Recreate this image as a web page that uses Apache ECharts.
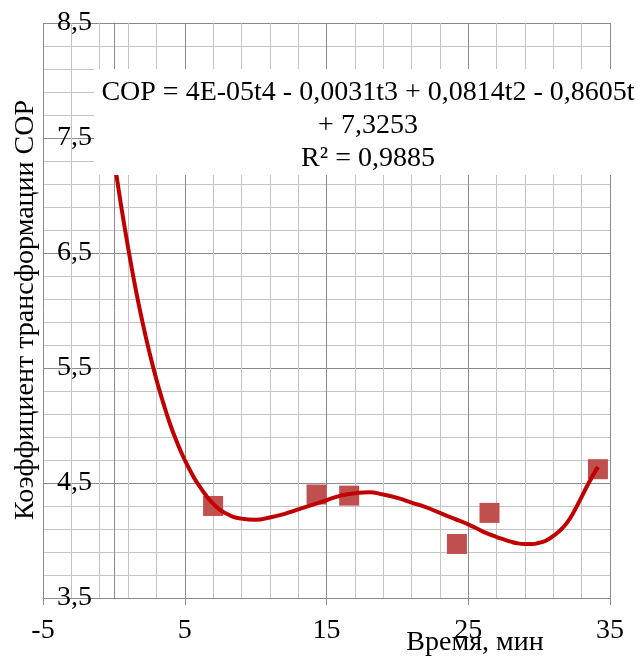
<!DOCTYPE html>
<html>
<head>
<meta charset="utf-8">
<script src="https://cdn.jsdelivr.net/npm/echarts@6/dist/echarts.min.js"></script>
<style>
html,body{margin:0;padding:0;background:#fff;}
#chart{width:639px;height:658px;}
</style>
</head>
<body>
<div id="chart"></div>
<script>
// Measured data points (time, min ; COP)
const timeMin = [7.0, 14.3, 16.6, 24.2, 26.5, 34.15];
const copValues = [4.30, 4.40, 4.39, 3.97, 4.24, 4.62];

// Polynomial trendline
const trendT = [0, 0.5, 1, 1.5, 2, 2.5, 3, 3.5, 4, 4.5, 5, 5.5, 6, 7, 8, 9, 10, 11, 12, 13, 14, 15, 16, 17, 18, 19, 20, 21, 22, 23, 24, 25, 26, 27, 27.5, 28, 28.5, 29, 29.5, 30, 30.5, 31, 31.5, 32, 32.5, 33, 33.5, 34.15];
const trendCop = [7.33, 6.92, 6.55, 6.21, 5.91, 5.64, 5.40, 5.19, 5.00, 4.84, 4.70, 4.58, 4.48, 4.32, 4.23, 4.19, 4.18, 4.20, 4.23, 4.27, 4.31, 4.35, 4.39, 4.41, 4.42, 4.40, 4.37, 4.33, 4.29, 4.24, 4.19, 4.14, 4.08, 4.03, 4.01, 3.99, 3.975, 3.97, 3.97, 3.98, 4.00, 4.04, 4.09, 4.16, 4.26, 4.38, 4.50, 4.64];

// Axis tick labels
const xTickLabels = ['-5', '5', '15', '25', '35'];
const yTickLabels = ['3,5', '4,5', '5,5', '6,5', '7,5', '8,5'];

const xAxisTitle = 'Время, мин';
const yAxisTitle = 'Коэффициент трансформации СОР';
const trendLabel = ['COP = 4E-05t4 - 0,0031t3 + 0,0814t2 - 0,8605t', '+ 7,3253', 'R² = 0,9885'];

const FONT = '"Liberation Serif", "Times New Roman", serif';
const MAJOR = '#8a8a8a';
const MINOR = '#c4c4c4';

const xMin = -5, xMax = 35, xInt = 10;
const yMin = 3.5, yMax = 8.5, yInt = 1;

const GRID_LEFT = 43, GRID_RIGHT = 29;
const plotW = 639 - GRID_LEFT - GRID_RIGHT;
// the value axis crosses the horizontal axis at t = 0
const yAxisOffset = -plotW * (0 - xMin) / (xMax - xMin);

const chart = echarts.init(document.getElementById('chart'), null, {renderer: 'canvas'});

const option = {
  animation: false,
  backgroundColor: '#ffffff',
  grid: {left: GRID_LEFT, right: GRID_RIGHT, top: 23, bottom: 60, containLabel: false, outerBoundsMode: 'none'},
  xAxis: {
    type: 'value', min: xMin, max: xMax, interval: xInt,
    axisLine: {show: true, onZero: false, lineStyle: {color: MAJOR, width: 1}},
    axisTick: {show: true, length: 7, lineStyle: {color: MAJOR, width: 1}},
    minorTick: {show: false, splitNumber: 5},
    splitLine: {show: true, lineStyle: {color: MAJOR, width: 1}},
    minorSplitLine: {show: true, lineStyle: {color: MINOR, width: 1}},
    axisLabel: {
      margin: 19, color: '#000', fontFamily: FONT, fontSize: 28,
      formatter: function (v) { const i = Math.round((v - xMin) / xInt); return xTickLabels[i] || ''; }
    }
  },
  yAxis: {
    type: 'value', min: yMin, max: yMax, interval: yInt,
    offset: yAxisOffset,
    axisLine: {show: true, onZero: false, lineStyle: {color: MAJOR, width: 1}},
    axisTick: {show: true, length: 7, lineStyle: {color: MAJOR, width: 1}},
    minorTick: {show: false, splitNumber: 5},
    splitLine: {show: true, lineStyle: {color: MAJOR, width: 1}},
    minorSplitLine: {show: true, lineStyle: {color: MINOR, width: 1}},
    axisLabel: {
      margin: 22, color: '#000', fontFamily: FONT, fontSize: 28,
      formatter: function (v) { const i = Math.round((v - yMin) / yInt); return yTickLabels[i] || ''; }
    }
  },
  series: [
    {
      type: 'scatter',
      data: timeMin.map((t, i) => [t, copValues[i]]),
      symbol: 'rect', symbolSize: 20,
      itemStyle: {color: '#c0504d', opacity: 1},
      z: 3
    },
    {
      type: 'line',
      data: trendT.map((t, i) => [t, trendCop[i]]),
      smooth: 0.5, showSymbol: false, symbol: 'none',
      lineStyle: {color: '#c00000', width: 4},
      z: 4
    }
  ],
  graphic: [
    {type: 'rect', z: 100, shape: {x: 94, y: 69, width: 545, height: 106}, style: {fill: '#ffffff'}},
    {type: 'text', z: 101, x: 368, y: 126,
      style: {text: trendLabel.join('\n'), font: '28px ' + FONT, fill: '#000', textAlign: 'center', textVerticalAlign: 'middle', lineHeight: 33}},
    {type: 'text', z: 101, x: 475, y: 643,
      style: {text: xAxisTitle, font: '28px ' + FONT, fill: '#000', textAlign: 'center', textVerticalAlign: 'middle'}},
    {type: 'text', z: 101, x: 26, y: 310, rotation: Math.PI / 2,
      style: {text: yAxisTitle, font: '28px ' + FONT, fill: '#000', textAlign: 'center', textVerticalAlign: 'middle'}}
  ]
};
chart.setOption(option);
</script>
</body>
</html>
